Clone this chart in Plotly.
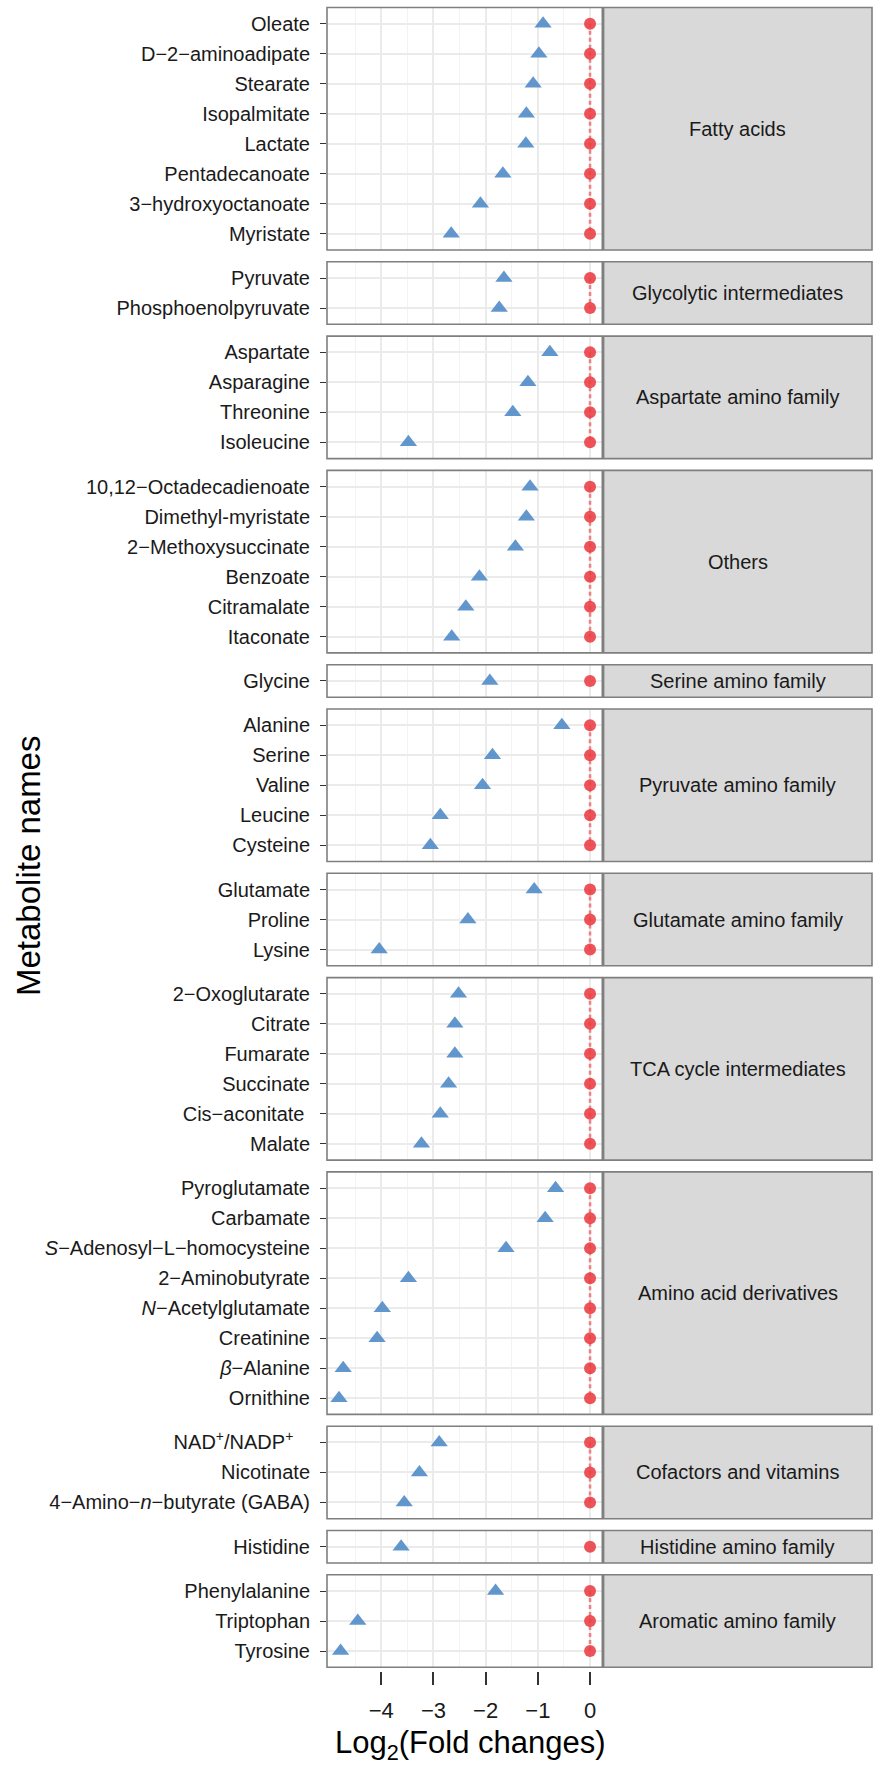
import plotly.graph_objects as go

# ---------------- data ----------------
groups = [
    "Fatty acids", "Glycolytic intermediates", "Aspartate amino family", "Others",
    "Serine amino family", "Pyruvate amino family", "Glutamate amino family",
    "TCA cycle intermediates", "Amino acid derivatives", "Cofactors and vitamins",
    "Histidine amino family", "Aromatic amino family",
]

metabolites = [
    # Fatty acids
    "Oleate", "D−2−aminoadipate", "Stearate", "Isopalmitate", "Lactate",
    "Pentadecanoate", "3−hydroxyoctanoate", "Myristate",
    # Glycolytic intermediates
    "Pyruvate", "Phosphoenolpyruvate",
    # Aspartate amino family
    "Aspartate", "Asparagine", "Threonine", "Isoleucine",
    # Others
    "10,12−Octadecadienoate", "Dimethyl-myristate", "2−Methoxysuccinate",
    "Benzoate", "Citramalate", "Itaconate",
    # Serine amino family
    "Glycine",
    # Pyruvate amino family
    "Alanine", "Serine", "Valine", "Leucine", "Cysteine",
    # Glutamate amino family
    "Glutamate", "Proline", "Lysine",
    # TCA cycle intermediates
    "2−Oxoglutarate", "Citrate", "Fumarate", "Succinate", "Cis−aconitate\u00a0", "Malate",
    # Amino acid derivatives
    "Pyroglutamate", "Carbamate", "<i>S</i>−Adenosyl−L−homocysteine", "2−Aminobutyrate",
    "<i>N</i>−Acetylglutamate", "Creatinine", "<i>β</i>−Alanine", "Ornithine",
    # Cofactors and vitamins
    "NAD<sup>+</sup>/NADP<sup>+</sup>\u00a0\u00a0\u00a0", "Nicotinate", "4−Amino−<i>n</i>−butyrate (GABA)",
    # Histidine amino family
    "Histidine",
    # Aromatic amino family
    "Phenylalanine", "Triptophan", "Tyrosine",
]

metabolite_group = (
    ["Fatty acids"] * 8 + ["Glycolytic intermediates"] * 2 + ["Aspartate amino family"] * 4
    + ["Others"] * 6 + ["Serine amino family"] * 1 + ["Pyruvate amino family"] * 5
    + ["Glutamate amino family"] * 3 + ["TCA cycle intermediates"] * 6
    + ["Amino acid derivatives"] * 8 + ["Cofactors and vitamins"] * 3
    + ["Histidine amino family"] * 1 + ["Aromatic amino family"] * 3
)

log2_fold_change = [
    -0.90, -0.98, -1.09, -1.22, -1.23, -1.67, -2.10, -2.66,
    -1.65, -1.74,
    -0.77, -1.19, -1.48, -3.48,
    -1.15, -1.22, -1.43, -2.12, -2.38, -2.65,
    -1.92,
    -0.54, -1.87, -2.06, -2.87, -3.06,
    -1.07, -2.34, -4.04,
    -2.52, -2.59, -2.59, -2.71, -2.87, -3.23,
    -0.66, -0.86, -1.61, -3.48, -3.98, -4.08, -4.73, -4.81,
    -2.89, -3.27, -3.56,
    -3.62,
    -1.81, -4.45, -4.78,
]

control_log2 = [
    0, 0, 0, 0, 0, 0, 0, 0,
    0, 0,
    0, 0, 0, 0,
    0, 0, 0, 0, 0, 0,
    0,
    0, 0, 0, 0, 0,
    0, 0, 0,
    0, 0, 0, 0, 0, 0,
    0, 0, 0, 0, 0, 0, 0, 0,
    0, 0, 0,
    0,
    0, 0, 0,
]

x_ticks = [-4, -3, -2, -1, 0]
x_tick_labels = ["−4", "−3", "−2", "−1", "0"]
x_minor = [-4.5, -3.5, -2.5, -1.5, -0.5]

# ---------------- layout geometry ----------------
W, H = 874, 1766
ML, MR, MT, MB = 327, 2, 7, 95
PW = W - ML - MR
PH = H - MT - MB
plot_bottom = MT + PH

panel_right_px = 602.3
strip_left_px = 603.6
x_dom_right = (panel_right_px - ML) / PW
strip_x0 = (strip_left_px - ML) / PW

row_u = 30.0
extra = 2.5
gap = 11.8
pad = (row_u + extra) / (2 * row_u)

FONT = "Liberation Sans, Arial, Helvetica, sans-serif"
BORDER = "#7f7f7f"
GRID = "#EBEBEB"

fig = go.Figure()
shapes = []
annotations = []
layout_axes = {}

cur = 7.5
for i, g in enumerate(groups):
    idx = [k for k in range(len(metabolites)) if metabolite_group[k] == g]
    n = len(idx)
    h = n * row_u + extra
    y_top, y_bot = cur, cur + h
    cur = y_bot + gap
    dom = [(plot_bottom - y_bot) / PH, (plot_bottom - y_top) / PH]
    yname = "y" if i == 0 else f"y{i+1}"
    ykey = "yaxis" if i == 0 else f"yaxis{i+1}"
    pos = list(range(n))

    fig.add_trace(go.Scatter(
        x=[control_log2[k] for k in idx], y=pos, xaxis="x", yaxis=yname,
        mode="lines+markers",
        line=dict(color="rgba(232,60,66,0.6)", width=2.6, dash="4px,3px"),
        marker=dict(symbol="circle", size=12, color="rgba(234,60,66,0.88)", line=dict(width=0)),
        showlegend=False, hoverinfo="skip", cliponaxis=False,
    ))
    fig.add_trace(go.Scatter(
        x=[log2_fold_change[k] for k in idx], y=pos, xaxis="x", yaxis=yname,
        mode="markers",
        marker=dict(symbol="triangle-up", size=15, color="rgba(80,140,199,0.9)", line=dict(width=0)),
        showlegend=False, cliponaxis=False,
    ))

    layout_axes[ykey] = dict(
        domain=dom, anchor="x", range=[n - 1 + pad, -pad],
        tickmode="array", tickvals=pos, ticktext=[metabolites[k] for k in idx],
        showgrid=True, gridcolor=GRID, gridwidth=1.6, zeroline=False, showline=False,
        ticks="outside", ticklen=6, tickwidth=1.4, tickcolor="#333333",
        tickfont=dict(family=FONT, size=20, color="#1a1a1a"),
        ticklabelstandoff=6, automargin=False, fixedrange=True,
    )

    shapes.append(dict(type="rect", xref="x domain", yref=f"{yname} domain",
                       x0=0, x1=1, y0=0, y1=1, line=dict(color=BORDER, width=1.6),
                       fillcolor="rgba(0,0,0,0)", layer="above"))
    shapes.append(dict(type="rect", xref="paper", yref=f"{yname} domain",
                       x0=strip_x0, x1=1, y0=0, y1=1, line=dict(color=BORDER, width=1.6),
                       fillcolor="#D9D9D9", layer="above"))
    annotations.append(dict(text=g, xref="paper", yref=f"{yname} domain",
                            x=(strip_x0 + 1) / 2, y=0.5, xanchor="center", yanchor="middle",
                            showarrow=False, font=dict(family=FONT, size=20, color="#1a1a1a")))

annotations.append(dict(text="Metabolite names", xref="paper", yref="paper",
                        x=(28 - ML) / PW, y=(plot_bottom - 866) / PH, textangle=-90,
                        xanchor="center", yanchor="middle", showarrow=False,
                        font=dict(family=FONT, size=33, color="#000000")))
annotations.append(dict(text="Log<sub>2</sub>(Fold changes)", xref="paper", yref="paper",
                        x=(470 - ML) / PW, y=(plot_bottom - 1745) / PH,
                        xanchor="center", yanchor="middle", showarrow=False,
                        font=dict(family=FONT, size=31, color="#000000")))

fig.update_layout(
    width=W, height=H,
    margin=dict(l=ML, r=MR, t=MT, b=MB, pad=0),
    paper_bgcolor="white", plot_bgcolor="white",
    showlegend=False,
    xaxis=dict(
        domain=[0, x_dom_right], anchor="free", position=0,
        range=[-5.04, 0.235],
        tickmode="array", tickvals=x_ticks, ticktext=x_tick_labels,
        ticks="outside", ticklen=13, tickwidth=1.5, tickcolor="#333333",
        showgrid=True, gridcolor=GRID, gridwidth=1.6,
        minor=dict(tickvals=x_minor, showgrid=True, gridcolor="#F3F3F3", gridwidth=0.9, ticks=""),
        zeroline=False, showline=False,
        tickfont=dict(family=FONT, size=22, color="#1a1a1a"),
        ticklabelstandoff=7, automargin=False, fixedrange=True,
    ),
    shapes=shapes,
    annotations=annotations,
    **layout_axes,
)

fig.write_html("out.html")
